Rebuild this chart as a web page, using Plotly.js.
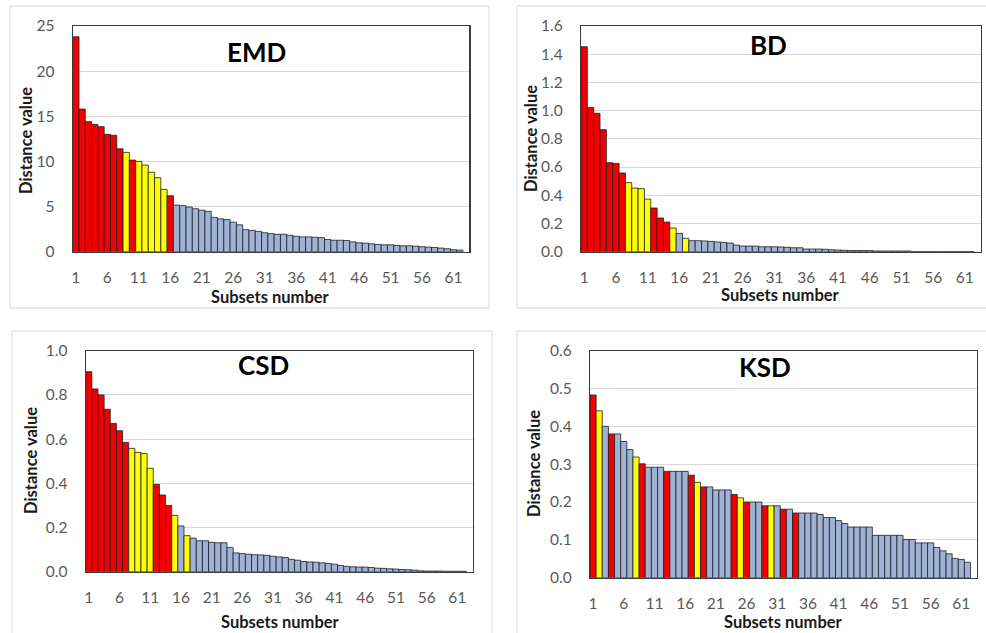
<!DOCTYPE html>
<html>
<head>
<meta charset="utf-8">
<script src="https://cdn.plot.ly/plotly-3.0.1.min.js"></script>
<style>html,body{margin:0;padding:0;background:#fff;}#chart{width:986px;height:633px;}</style>
</head>
<body>
<div id="chart"></div>
<script>
// ---------------- data ----------------
const subsets = Array.from({length: 62}, (_, i) => i + 1);
const xTickVals = [1, 6, 11, 16, 21, 26, 31, 36, 41, 46, 51, 56, 61];

const panelNames = ["EMD", "BD", "CSD", "KSD"];

const emdValues = [23.8, 15.8, 14.4, 14.1, 13.85, 13.0, 12.9, 11.4, 11.0, 10.15, 10.0, 9.6, 8.8, 8.2, 6.9, 6.2,
  5.16, 5.1, 4.95, 4.76, 4.6, 4.47, 3.8, 3.64, 3.56, 3.27, 2.98, 2.44, 2.36, 2.25,
  2.1, 2.0, 1.93, 1.93, 1.82, 1.71, 1.64, 1.64, 1.6, 1.56,
  1.35, 1.27, 1.27, 1.24, 1.09, 0.98, 0.95, 0.87, 0.8, 0.76,
  0.76, 0.69, 0.65, 0.65, 0.62, 0.55, 0.51, 0.47, 0.4, 0.33,
  0.22, 0.18];

const bdValues = [1.453, 1.023, 0.981, 0.865, 0.631, 0.626, 0.558, 0.49, 0.451, 0.447, 0.373, 0.31, 0.239, 0.21, 0.168, 0.13, 0.095,
  0.078, 0.078, 0.076, 0.073, 0.069, 0.066, 0.061, 0.047, 0.04, 0.04, 0.04, 0.035, 0.035, 0.035, 0.033, 0.031, 0.028, 0.028,
  0.019, 0.019, 0.019, 0.017, 0.014, 0.012, 0.01, 0.008, 0.008, 0.008, 0.008, 0.005, 0.005, 0.005, 0.005, 0.005, 0.005,
  0, 0, 0, 0, 0, 0, 0, 0, 0, 0];

const csdValues = [0.905, 0.827, 0.8, 0.735, 0.671, 0.638, 0.585, 0.558, 0.54, 0.535, 0.468, 0.395, 0.347, 0.3, 0.255, 0.207, 0.163,
  0.152, 0.14, 0.14, 0.133, 0.131, 0.131, 0.11, 0.085, 0.082, 0.079, 0.077, 0.076, 0.074,
  0.07, 0.067, 0.064, 0.056, 0.052, 0.046, 0.044, 0.043, 0.04, 0.037,
  0.034, 0.028, 0.024, 0.022, 0.021, 0.021, 0.019, 0.016, 0.015, 0.013,
  0.012, 0.01, 0.009, 0.007, 0.004, 0.003, 0.003, 0.003, 0.002, 0.002, 0.002, 0.002];

const ksdValues = [0.483, 0.441, 0.4, 0.38, 0.38, 0.36, 0.339, 0.319, 0.301, 0.292, 0.292, 0.292, 0.281, 0.281, 0.281, 0.281, 0.271, 0.252, 0.24, 0.24,
  0.232, 0.232, 0.232, 0.22, 0.211, 0.2, 0.2, 0.2, 0.19, 0.19, 0.19, 0.181, 0.181, 0.171, 0.171, 0.171, 0.171, 0.167, 0.159, 0.159,
  0.151, 0.143, 0.134, 0.134, 0.134, 0.134, 0.112, 0.112, 0.112, 0.112, 0.112, 0.101, 0.101, 0.092, 0.092, 0.092, 0.08, 0.071, 0.063, 0.051,
  0.048, 0.041];

// group of each subset: 1 = first group, 2 = second group, 0 = others
const emdGroups = [1,1,1,1,1,1,1,1,2,1,2,2,2,2,2,1].concat(Array(46).fill(0));
const bdGroups  = [1,1,1,1,1,1,1,2,2,2,2,1,1,1,2,0,2].concat(Array(45).fill(0));
const csdGroups = [1,1,1,1,1,1,1,2,2,2,2,1,1,1,2,0,2].concat(Array(45).fill(0));
const ksdGroups = [1,2,0,1,0,0,0,2,1,0,0,0,1,0,0,0,1,2,1,0,0,0,0,1,2,1,0,0,1,2,0,1,0,1].concat(Array(28).fill(0));

// ---------------- styling / layout ----------------
const W = 986, H = 633;
const groupColor = {0: "#A0B3D4", 1: "#F20000", 2: "#FFFF00"};
const FONT = 'Lato, "Open Sans", "Liberation Sans", sans-serif';

const series = [
  {vals: emdValues, groups: emdGroups, yMax: 25,  dtick: 5,   fmt: "d"},
  {vals: bdValues,  groups: bdGroups,  yMax: 1.6, dtick: 0.2, fmt: ".1f"},
  {vals: csdValues, groups: csdGroups, yMax: 1.0, dtick: 0.2, fmt: ".1f"},
  {vals: ksdValues, groups: ksdGroups, yMax: 0.6, dtick: 0.1, fmt: ".1f"}
];

// plot areas in pixels [left, top, right, bottom]
const boxes = [
  [72.7, 26, 469.3, 251.7],
  [581, 26, 980.7, 251.7],
  [85.7, 350.7, 472.7, 571.7],
  [590, 350.7, 976.7, 577.7]
];
// chart-area frames [left, top, right, bottom]
const frames = [
  [10, 6, 489, 308],
  [517, 6, 990, 308],
  [12, 331, 492, 640],
  [517, 331, 990, 640]
];
const titlePos = [[256.5, 52], [768, 45], [263, 365], [765, 367]];
const yTitlePos = [[26, 141], [531, 139], [31, 461], [534, 464]];
const xTitlePos = [[270, 297], [780, 295], [280, 622], [783, 622]];

const px = x => x / W;
const py = y => 1 - y / H;

const traces = [];
const layout = {
  width: W, height: H,
  margin: {l: 0, r: 0, t: 0, b: 0},
  paper_bgcolor: "#ffffff",
  plot_bgcolor: "#ffffff",
  showlegend: false,
  bargap: 0,
  font: {family: FONT, color: "#595959"},
  annotations: [],
  shapes: []
};

series.forEach((s, i) => {
  const n = i === 0 ? "" : String(i + 1);
  const b = boxes[i];
  traces.push({
    type: "bar",
    x: subsets.slice(0, s.vals.length),
    y: s.vals,
    xaxis: "x" + n,
    yaxis: "y" + n,
    marker: {
      color: s.groups.map(g => groupColor[g]),
      line: {color: "#1b1f2a", width: 0.8}
    },
    hoverinfo: "x+y"
  });
  layout["xaxis" + n] = {
    domain: [px(b[0]), px(b[2])],
    anchor: "y" + n,
    range: [0.5, 63.5],
    tickmode: "array",
    tickvals: xTickVals,
    ticktext: xTickVals.map(String),
    showgrid: false,
    zeroline: false,
    showline: true,
    mirror: true,
    linecolor: "#3a3a3a",
    linewidth: 1.2,
    ticks: "outside",
    ticklen: 11,
    tickcolor: "rgba(0,0,0,0)",
    tickfont: {family: FONT, size: 15.5, color: "#595959"},
    automargin: false,
    fixedrange: true
  };
  layout["yaxis" + n] = {
    domain: [py(b[3]), py(b[1])],
    anchor: "x" + n,
    range: [0, s.yMax],
    dtick: s.dtick,
    tick0: 0,
    tickformat: s.fmt,
    showgrid: true,
    gridcolor: "#d9d9d9",
    gridwidth: 1,
    zeroline: false,
    showline: true,
    mirror: true,
    linecolor: "#3a3a3a",
    linewidth: 1.2,
    ticks: "outside",
    ticklen: 14,
    tickcolor: "rgba(0,0,0,0)",
    tickfont: {family: FONT, size: 15.5, color: "#595959"},
    automargin: false,
    fixedrange: true
  };
  const f = frames[i];
  layout.shapes.push({
    type: "rect", xref: "paper", yref: "paper",
    x0: px(f[0]), x1: px(f[2]), y0: py(f[3]), y1: py(f[1]),
    line: {color: "#d9d9d9", width: 1}, fillcolor: "rgba(0,0,0,0)", layer: "below"
  });
  layout.annotations.push({
    text: "<b>" + panelNames[i] + "</b>", xref: "paper", yref: "paper",
    x: px(titlePos[i][0]), y: py(titlePos[i][1]), xanchor: "center", yanchor: "middle",
    showarrow: false, font: {family: FONT, size: 26, color: "#000000"}
  });
  layout.annotations.push({
    text: "<b>Distance value</b>", xref: "paper", yref: "paper",
    x: px(yTitlePos[i][0]), y: py(yTitlePos[i][1]), xanchor: "center", yanchor: "middle",
    textangle: -90, showarrow: false, font: {family: FONT, size: 16.5, color: "#1a1a1a"}
  });
  layout.annotations.push({
    text: "<b>Subsets number</b>", xref: "paper", yref: "paper",
    x: px(xTitlePos[i][0]), y: py(xTitlePos[i][1]), xanchor: "center", yanchor: "middle",
    showarrow: false, font: {family: FONT, size: 16.5, color: "#1a1a1a"}
  });
});

Plotly.newPlot("chart", traces, layout, {displayModeBar: false, staticPlot: true});
</script>
</body>
</html>
